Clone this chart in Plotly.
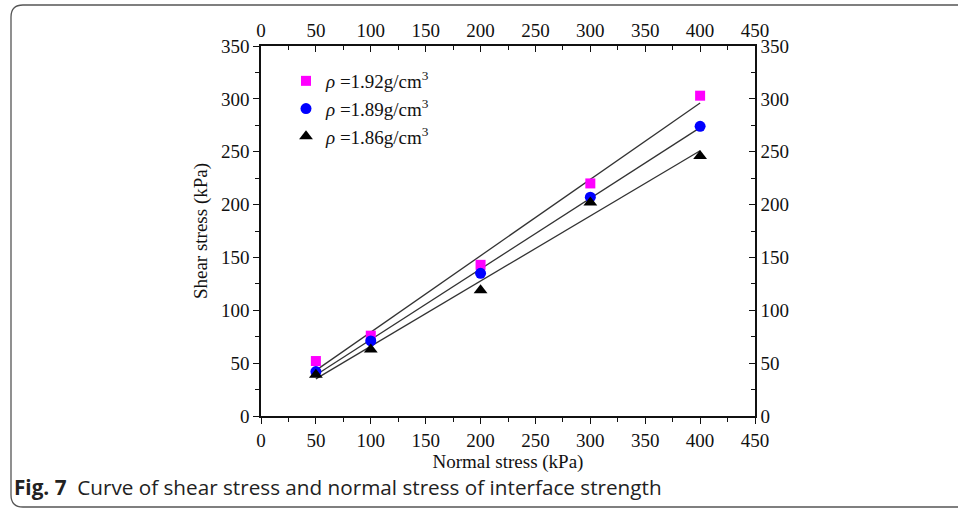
import numpy as np
import plotly.graph_objects as go

normal_stress = [50, 100, 200, 300, 400]
shear_192 = [52, 76, 143, 220, 303]
shear_189 = [42, 71, 135, 207, 274]
shear_186 = [39, 63, 119, 202, 246]

series = [
    ("<i>\u03c1</i> =1.92g/cm<sup>3</sup>", shear_192, "#ff00ff", "square", 10),
    ("<i>\u03c1</i> =1.89g/cm<sup>3</sup>", shear_189, "#0000ff", "circle", 11),
    ("<i>\u03c1</i> =1.86g/cm<sup>3</sup>", shear_186, "#000000", "triangle-up", 12),
]

W, H = 958, 511
L, R, T, B = 261, 755, 46, 416

def px(p):
    return (p - L) / (R - L)

def py(q):
    return (B - q) / (B - T)

fig = go.Figure()

x_arr = np.array(normal_stress, dtype=float)
for name, ys, color, sym, sz in series:
    k, b = np.polyfit(x_arr, np.array(ys, dtype=float), 1)
    xs = [min(normal_stress), max(normal_stress)]
    fig.add_trace(go.Scatter(x=xs, y=[k * v + b for v in xs], mode="lines",
                             line=dict(color="#333333", width=1.3),
                             showlegend=False, hoverinfo="skip"))

for name, ys, color, sym, sz in series:
    fig.add_trace(go.Scatter(x=normal_stress, y=ys, mode="markers", name=name,
                             marker=dict(symbol=sym, color=color, size=sz,
                                         line=dict(width=0))))

# invisible trace to activate top/right axes
fig.add_trace(go.Scatter(x=normal_stress, y=shear_192, xaxis="x2", yaxis="y2",
                         mode="markers", marker=dict(opacity=0), showlegend=False,
                         hoverinfo="skip"))

serif = "Liberation Serif"
tickfont = dict(family=serif, size=19, color="#111111")
axis_common = dict(showgrid=False, zeroline=False, showline=True, linecolor="#111111",
                   linewidth=1.5, ticklen=6, tickwidth=1.3, tickcolor="#111111",
                   tickfont=tickfont)

fig.update_layout(
    width=W, height=H,
    margin=dict(l=L, r=W - R, t=T, b=H - B),
    paper_bgcolor="white", plot_bgcolor="white",
    xaxis=dict(range=[0, 450], dtick=50, ticks="outside",
               minor=dict(dtick=25, ticks="outside", ticklen=4, tickcolor="#111111", tickwidth=1.2),
               title=dict(text="Normal stress (kPa)", font=dict(family=serif, size=19, color="#111111"), standoff=4),
               **axis_common),
    yaxis=dict(range=[0, 350], dtick=50, ticks="outside",
               minor=dict(dtick=25, ticks="outside", ticklen=4, tickcolor="#111111", tickwidth=1.2),
               title=dict(text="Shear stress (kPa)", font=dict(family=serif, size=19, color="#111111"), standoff=8),
               **axis_common),
    xaxis2=dict(range=[0, 450], dtick=50, ticks="inside", overlaying="x", side="top",
                minor=dict(dtick=25, ticks="inside", ticklen=4, tickcolor="#111111", tickwidth=1.2),
                **axis_common),
    yaxis2=dict(range=[0, 350], dtick=50, ticks="inside", overlaying="y", side="right",
                minor=dict(dtick=25, ticks="inside", ticklen=4, tickcolor="#111111", tickwidth=1.2),
                **axis_common),
    legend=dict(x=px(286), y=py(62), xanchor="left", yanchor="top",
                bgcolor="rgba(0,0,0,0)", font=dict(family=serif, size=19, color="#111111"),
                tracegroupgap=0, itemwidth=30),
    showlegend=True,
)

# rounded border around the figure
x0, x1 = px(11), px(975)
y0, y1 = py(507), py(5)
rx, ry = 12 / (R - L), 12 / (B - T)
path = (f"M {x0+rx},{y1} L {x1-rx},{y1} Q {x1},{y1} {x1},{y1-ry} "
        f"L {x1},{y0+ry} Q {x1},{y0} {x1-rx},{y0} L {x0+rx},{y0} "
        f"Q {x0},{y0} {x0},{y0+ry} L {x0},{y1-ry} Q {x0},{y1} {x0+rx},{y1} Z")
fig.add_shape(type="path", path=path, xref="paper", yref="paper",
              line=dict(color="#555555", width=1.3), fillcolor="rgba(0,0,0,0)", layer="below")

fig.add_annotation(text="<b>Fig. 7</b>  Curve of shear stress and normal stress of interface strength",
                   xref="paper", yref="paper", x=px(12), y=py(487), xanchor="left", yanchor="middle",
                   showarrow=False, font=dict(family="Open Sans", size=20.7, color="#222222"))

fig.write_html("out.html")
